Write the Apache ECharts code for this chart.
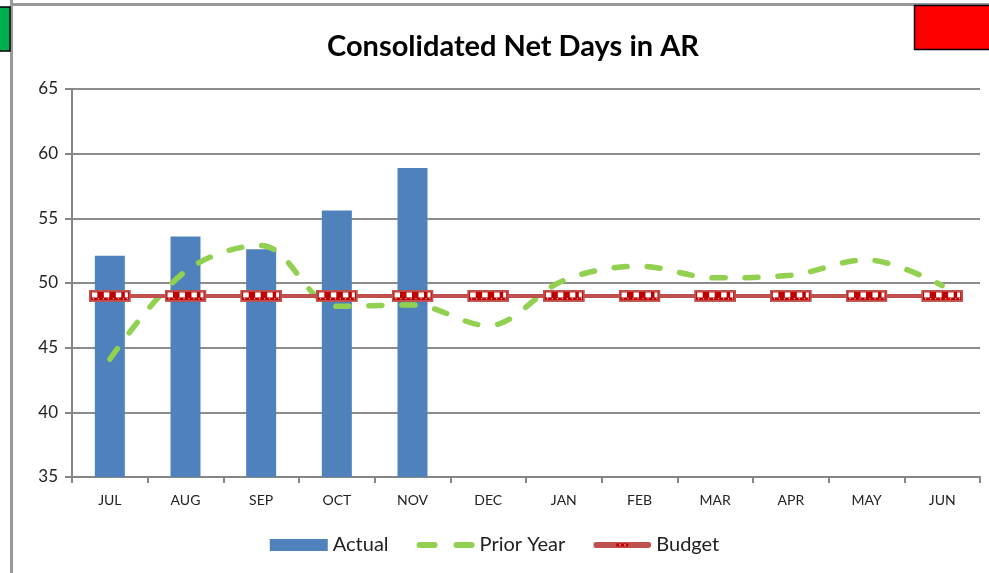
<!DOCTYPE html>
<html><head><meta charset="utf-8">
<script src="https://cdn.jsdelivr.net/npm/echarts@6/dist/echarts.min.js"></script>
<style>html,body{margin:0;padding:0;background:#fff}#c{width:989px;height:573px}</style>
</head><body><div id="c"></div>
<script>
const categories = ['JUL','AUG','SEP','OCT','NOV','DEC','JAN','FEB','MAR','APR','MAY','JUN'];
const actual = [52.1, 53.6, 52.6, 55.6, 58.9, null, null, null, null, null, null, null];
const priorYear = [44.1, 50.9, 52.9, 48.2, 48.3, 46.7, 50.2, 51.3, 50.4, 50.6, 51.8, 49.8];
const budget = [49, 49, 49, 49, 49, 49, 49, 49, 49, 49, 49, 49];
const yTicks = [35, 40, 45, 50, 55, 60, 65];

const markerSvg = '<svg xmlns="http://www.w3.org/2000/svg" width="42" height="12" viewBox="0 0 42 12">' +
  '<rect x="0" y="0" width="42" height="12" fill="#c0504d"/>' +
  '<rect x="2" y="2" width="38" height="8" fill="#c00000"/>' +
  '<rect x="3" y="2.5" width="5.5" height="5" fill="#ffffff"/>' +
  '<rect x="15" y="2.5" width="5.5" height="5" fill="#ffffff"/>' +
  '<rect x="27" y="2.5" width="5.5" height="5" fill="#ffffff"/>' +
  '<rect x="36" y="2.5" width="3" height="5" fill="#ffffff"/>' +
  '<rect x="4" y="8.3" width="1" height="1" fill="#fff"/><rect x="9" y="8.3" width="1" height="1" fill="#fff"/>' +
  '<rect x="14" y="8.3" width="1" height="1" fill="#fff"/><rect x="19" y="8.3" width="1" height="1" fill="#fff"/>' +
  '<rect x="24" y="8.3" width="1" height="1" fill="#fff"/><rect x="29" y="8.3" width="1" height="1" fill="#fff"/>' +
  '<rect x="34" y="8.3" width="1" height="1" fill="#fff"/><rect x="38" y="8.3" width="1" height="1" fill="#fff"/>' +
  '</svg>';
const budgetSymbol = 'image://data:image/svg+xml;charset=utf-8,' + encodeURIComponent(markerSvg);

const legendBudgetSvg = '<svg xmlns="http://www.w3.org/2000/svg" width="58" height="6" viewBox="0 0 58 6">' +
  '<rect x="0" y="0" width="58" height="6" rx="3" fill="#c0504d"/>' +
  '<rect x="23" y="1.5" width="12" height="3" fill="#c00000"/>' +
  '<rect x="26" y="2.5" width="1.5" height="1" fill="#fff"/>' +
  '<rect x="31" y="2.5" width="1.5" height="1" fill="#fff"/>' +
  '</svg>';
const legendBudgetIcon = 'image://data:image/svg+xml;charset=utf-8,' + encodeURIComponent(legendBudgetSvg);
const legendPriorIcon = 'path://M3,0h15a3,3 0 0 1 0,6h-15a3,3 0 0 1 0,-6z M40,0h15a3,3 0 0 1 0,6h-15a3,3 0 0 1 0,-6z';

const chart = echarts.init(document.getElementById('c'), null, {renderer: 'canvas'});
const font = 'Lato, "Open Sans", sans-serif';
chart.setOption({
  backgroundColor: '#ffffff',
  animation: false,
  title: {
    text: 'Consolidated Net Days in AR',
    left: 508, top: 27, textAlign: 'center',
    textStyle: {fontFamily: font, fontSize: 29, fontWeight: 'bold', color: '#000'}
  },
  graphic: [
    {type: 'rect', shape: {x: 11, y: 3, width: 980, height: 3}, style: {fill: '#999'}, z: 100},
    {type: 'rect', shape: {x: 10, y: 0, width: 3, height: 573}, style: {fill: '#999'}, z: 100},
    {type: 'rect', shape: {x: -2, y: 7, width: 12, height: 44}, style: {fill: '#00b050', stroke: '#000', lineWidth: 1.5}, z: 101},
    {type: 'rect', shape: {x: 914.5, y: 5.5, width: 80, height: 44}, style: {fill: '#ff0000', stroke: '#000', lineWidth: 1.5}, z: 101}
  ],
  legend: {
    bottom: 13, left: 'center',
    itemWidth: 58, itemHeight: 12, itemGap: 28,
    textStyle: {fontFamily: font, fontSize: 20, color: '#222'},
    data: [
      {name: 'Actual', icon: 'rect'},
      {name: 'Prior Year', icon: legendPriorIcon, itemStyle: {color: '#92d050'}, symbolKeepAspect: true},
      {name: 'Budget', icon: legendBudgetIcon, symbolKeepAspect: true}
    ]
  },
  grid: {left: 72, right: 9, top: 89, bottom: 96, containLabel: false},
  xAxis: {
    type: 'category', data: categories, boundaryGap: true,
    axisLine: {lineStyle: {color: '#868686', width: 2}},
    axisTick: {show: true, length: 6, lineStyle: {color: '#868686', width: 2}},
    axisLabel: {fontFamily: font, fontSize: 14, color: '#222', margin: 16}
  },
  yAxis: {
    type: 'value', min: 35, max: 65, interval: 5,
    axisLine: {show: true, lineStyle: {color: '#868686', width: 2}},
    axisTick: {show: true, length: 7, lineStyle: {color: '#868686', width: 2}},
    axisLabel: {fontFamily: font, fontSize: 17, color: '#222', margin: 14,
      formatter: v => yTicks.includes(v) ? String(v) : ''},
    splitLine: {lineStyle: {color: '#8c8c8c', width: 2}}
  },
  series: [
    {
      name: 'Actual', type: 'bar', data: actual, barWidth: 30,
      itemStyle: {color: '#4f81bd'}, z: 2
    },
    {
      name: 'Prior Year', type: 'line', data: priorYear, smooth: 0.35,
      symbol: 'none', showSymbol: false,
      lineStyle: {color: '#92d050', width: 5.5, type: [13, 20], cap: 'round'},
      itemStyle: {color: '#92d050'}, z: 3
    },
    {
      name: 'Budget', type: 'line', data: budget,
      symbol: budgetSymbol, symbolSize: [42, 12], showSymbol: true,
      lineStyle: {color: '#c0504d', width: 4},
      itemStyle: {color: '#c0504d'}, z: 4
    }
  ]
});
</script></body></html>
